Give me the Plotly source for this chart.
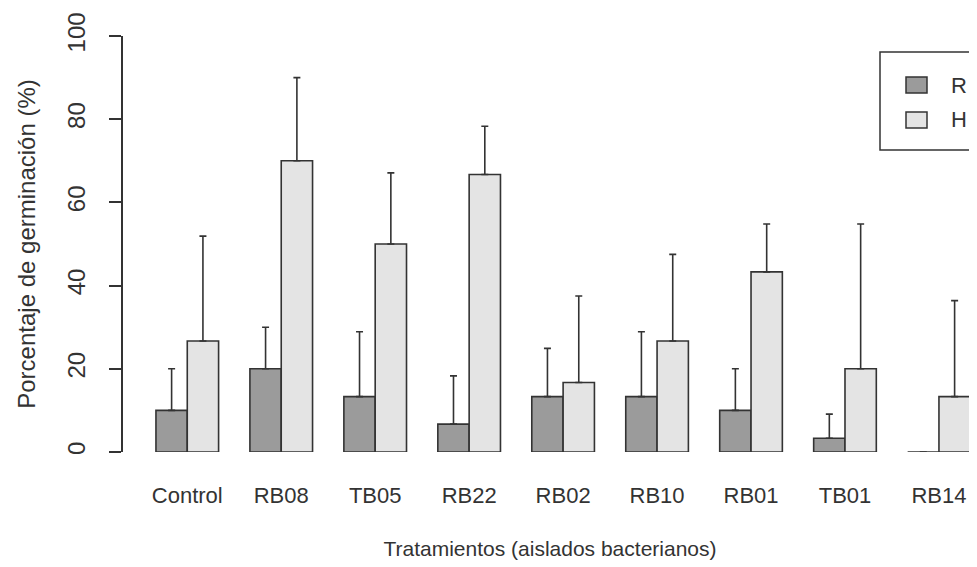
import plotly.graph_objects as go

categories = ["Control", "RB08", "TB05", "RB22", "RB02", "RB10", "RB01", "TB01", "RB14"]
series_names = ["R", "H"]
r_values = [10, 20, 13.3, 6.7, 13.3, 13.3, 10, 3.3, 0]
r_err = [10, 10, 15.6, 11.6, 11.6, 15.6, 10, 5.8, None]
h_values = [26.7, 70, 50, 66.7, 16.7, 26.7, 43.3, 20, 13.3]
h_err = [25.2, 20, 17.1, 11.6, 20.8, 20.8, 11.5, 34.8, 23.1]
y_ticks = [0, 20, 40, 60, 80, 100]

# the page body adds an 8px offset, so the figure is laid out 8px smaller
OFF = 8
W, H = 977 - OFF, 567 - OFF
ML, MR, MT, MB = 123 - OFF, 0, 36 - OFF, 115
PW, PH = W - ML - MR, H - MT - MB

fills = ["#9b9b9b", "#e4e4e4"]
edge = "#333333"
font_fam = "Liberation Sans, Arial, sans-serif"

fig = go.Figure()
for name, vals, errs, col in zip(series_names, [r_values, h_values], [r_err, h_err], fills):
    fig.add_trace(go.Bar(
        x=categories, y=vals, name=name,
        marker=dict(color=col, line=dict(color=edge, width=1.6)),
        error_y=dict(type="data", array=errs, arrayminus=[0] * len(errs), symmetric=False,
                     color=edge, thickness=1.6, width=3.5),
        showlegend=False,
    ))

# legend drawn as a boxed key (positions given in page pixels)
def px_x(p):
    return (p - OFF - ML) / PW

def px_y(p):
    return (H - MB - (p - OFF)) / PH

shapes = [dict(type="rect", xref="paper", yref="paper",
               x0=px_x(880), x1=px_x(1000), y0=px_y(150), y1=px_y(52),
               line=dict(color=edge, width=1.5), fillcolor="white", layer="above")]
annotations = []
for i, (name, col) in enumerate(zip(series_names, fills)):
    yc = 85 + 35 * i
    shapes.append(dict(type="rect", xref="paper", yref="paper",
                       x0=px_x(906), x1=px_x(927), y0=px_y(yc + 8), y1=px_y(yc - 8),
                       line=dict(color=edge, width=1.5), fillcolor=col, layer="above"))
    annotations.append(dict(text=name, xref="paper", yref="paper", x=px_x(949), y=px_y(yc),
                            xanchor="left", yanchor="middle", showarrow=False,
                            font=dict(size=22, color=edge, family=font_fam)))

fig.update_layout(
    width=W, height=H,
    margin=dict(l=ML, r=MR, t=MT, b=MB, autoexpand=False),
    paper_bgcolor="white", plot_bgcolor="white",
    barmode="group", bargap=1 / 3, bargroupgap=0,
    font=dict(family=font_fam, color=edge, size=22),
    shapes=shapes, annotations=annotations,
    showlegend=False,
    xaxis=dict(
        range=[-0.684, 8.405], showline=False, showgrid=False, zeroline=False,
        ticks="", tickfont=dict(size=22, color=edge), ticklabelstandoff=28,
        title=dict(text="Tratamientos (aislados bacterianos)", font=dict(size=21, color=edge), standoff=34),
        fixedrange=True,
    ),
    yaxis=dict(
        range=[0, 100], tickvals=y_ticks, ticktext=[str(t) for t in y_ticks],
        showline=True, linecolor=edge, linewidth=1.5,
        ticks="outside", ticklen=12, tickwidth=1.5, tickcolor=edge,
        tickangle=-90, tickfont=dict(size=24, color=edge), ticklabelstandoff=15,
        showgrid=False, zeroline=False,
        title=dict(text="Porcentaje de germinación (%)", font=dict(size=24, color=edge), standoff=20),
        fixedrange=True,
    ),
)

fig.write_html("out.html")
